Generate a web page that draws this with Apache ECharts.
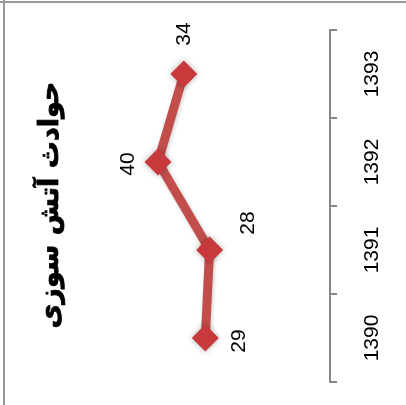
<!DOCTYPE html>
<html><head><meta charset="utf-8">
<script src="https://cdn.jsdelivr.net/npm/echarts@6/dist/echarts.min.js"></script>
<style>html,body{margin:0;padding:0;background:#fff}#c{width:406px;height:405px}</style>
</head><body><div id="c"></div>
<script>
const titleText = 'حوادث آتش سوزی';
const years = ['1390', '1391', '1392', '1393'];
const fires = [29, 28, 40, 34];
const labelOffsets = [[-3, 34], [27, 39], [-2, -30], [40, 0]];

const chart = echarts.init(document.getElementById('c'), null, {renderer: 'canvas'});
chart.setOption({
  animation: false,
  backgroundColor: '#fff',
  grid: {left: 115, right: 76, top: 30, bottom: 23},
  xAxis: {
    type: 'value', inverse: true, min: 0, max: 50,
    axisLine: {show: false}, axisTick: {show: false}, axisLabel: {show: false}, splitLine: {show: false}
  },
  yAxis: {
    type: 'category', position: 'right', data: years, boundaryGap: true,
    axisLine: {show: true, lineStyle: {color: '#868686', width: 2}},
    axisTick: {show: true, length: 7, lineStyle: {color: '#868686', width: 2}},
    axisLabel: {rotate: 90, margin: 32, color: '#000', fontSize: 21, fontFamily: 'Liberation Sans'},
    splitLine: {show: false}
  },
  graphic: [
    {type: 'rect', shape: {x: 0, y: 1, width: 406, height: 2}, style: {fill: '#999'}},
    {type: 'rect', shape: {x: 3, y: 0, width: 2, height: 405}, style: {fill: '#999'}},
    {type: 'text', x: 51, y: 205, rotation: Math.PI / 2,
     style: {text: titleText, font: 'bold 27px "DejaVu Sans"', fill: '#000', align: 'center', verticalAlign: 'middle', stroke: '#000', lineWidth: 0.8}}
  ],
  series: [{
    type: 'line',
    data: fires.map((v, i) => ({value: v, label: {offset: labelOffsets[i]}})),
    lineStyle: {color: '#C24E4C', width: 9, shadowColor: 'rgba(0,0,0,0.2)', shadowBlur: 4, shadowOffsetX: 1, shadowOffsetY: 1},
    symbol: 'diamond', symbolSize: 27,
    itemStyle: {color: '#C8393C', shadowColor: 'rgba(0,0,0,0.3)', shadowBlur: 6},
    label: {show: true, position: 'inside', rotate: 90, color: '#000', fontSize: 21, fontFamily: 'Liberation Sans'}
  }]
});
</script></body></html>
